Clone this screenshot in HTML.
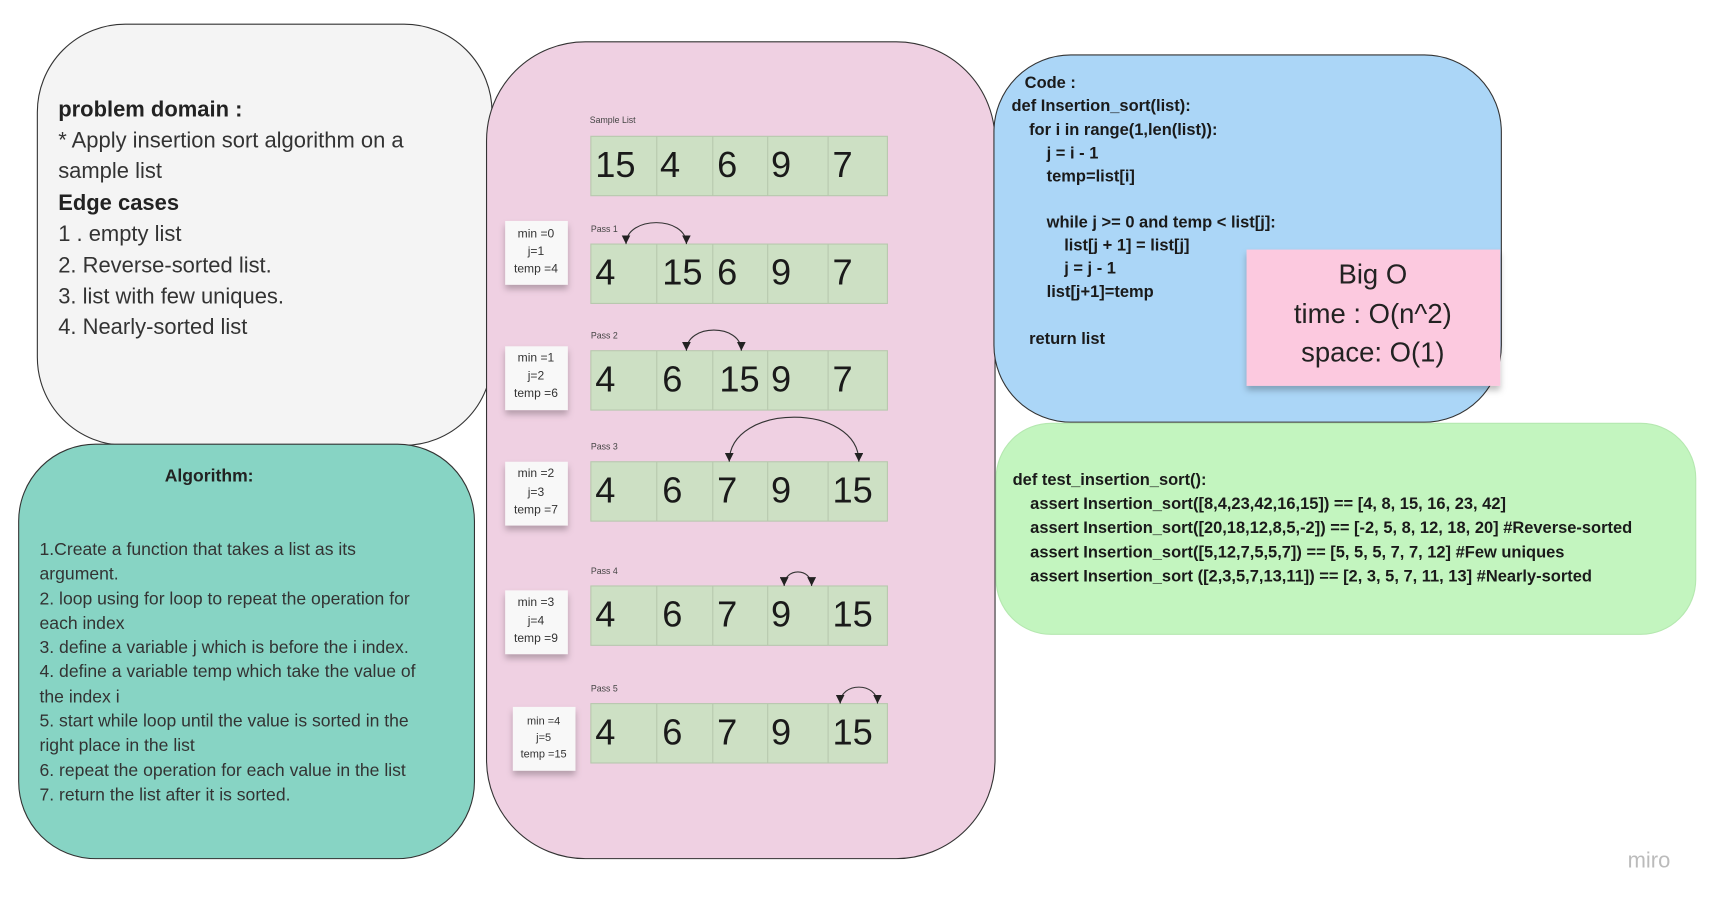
<!DOCTYPE html>
<html><head><meta charset="utf-8"><style>
html,body{margin:0;padding:0;background:#fff;width:1721px;height:907px;overflow:hidden}
svg{display:block}
text{font-family:"Liberation Sans",sans-serif;fill:#222}
.c{font-size:15px;font-weight:bold;fill:#1a1a1a}
.n{font-size:33px;fill:#1a1a1a}
.s{font-size:11px;text-anchor:middle;fill:#333}
.p{font-size:8px;fill:#444}
.a{font-size:16px;fill:#333}
.d{font-size:20px;fill:#333}
</style></head><body>
<svg width="1721" height="907" viewBox="0 0 1567 825" preserveAspectRatio="none">
<defs>
<marker id="ah" markerWidth="8" markerHeight="8" refX="8" refY="4" orient="auto-start-reverse" markerUnits="userSpaceOnUse"><path d="M0,0 L8,4 L0,8 z" fill="#222"/></marker>
<filter id="sh" x="-20%" y="-20%" width="140%" height="150%"><feDropShadow dx="0" dy="4" stdDeviation="3" flood-color="#000" flood-opacity="0.25"/></filter>
</defs>
<rect x="34" y="22" width="414" height="383" rx="80" fill="#f4f4f4" stroke="#333" stroke-width="1"/>
<rect x="17" y="404" width="415" height="377" rx="70" fill="#87d4c4" stroke="#333" stroke-width="1"/>
<rect x="443" y="38" width="463" height="743" rx="90" fill="#efd0e2" stroke="#333" stroke-width="1"/>
<rect x="905" y="50" width="462" height="334" rx="70" fill="#abd6f7" stroke="#333" stroke-width="1"/>
<rect x="907" y="385" width="637" height="192" rx="50" fill="#c3f5bf" stroke="#b5e8b0" stroke-width="1"/>

<text x="53" y="106" style="font-size:20px;font-weight:bold;fill:#222">problem domain :</text>
<text x="53" y="134" class="d">* Apply insertion sort algorithm on a</text>
<text x="53" y="162" class="d">sample list</text>
<text x="53" y="191" style="font-size:20px;font-weight:bold;fill:#222">Edge cases</text>
<text x="53" y="219" class="d">1 . empty list</text>
<text x="53" y="248" class="d">2. Reverse-sorted list.</text>
<text x="53" y="276" class="d">3. list with few uniques.</text>
<text x="53" y="304" class="d">4. Nearly-sorted list</text>

<text x="150" y="438" style="font-size:16px;font-weight:bold;fill:#222">Algorithm:</text>
<text x="36" y="505" class="a">1.Create a function that takes a list as its</text>
<text x="36" y="527" class="a">argument.</text>
<text x="36" y="550" class="a">2. loop using for loop to repeat the operation for</text>
<text x="36" y="572" class="a">each index</text>
<text x="36" y="594" class="a">3. define a variable j which is before the i index.</text>
<text x="36" y="616" class="a">4. define a variable temp which take the value of</text>
<text x="36" y="639" class="a">the index i</text>
<text x="36" y="661" class="a">5. start while loop until the value is sorted in the</text>
<text x="36" y="683" class="a">right place in the list</text>
<text x="36" y="706" class="a">6. repeat the operation for each value in the list</text>
<text x="36" y="728" class="a">7. return the list after it is sorted.</text>

<text x="537" y="112" class="p">Sample List</text>
<rect x="538" y="124" width="270" height="54" fill="#cde0c4" stroke="#b7c8ae"/>
<path d="M598,124v54M649,124v54M699,124v54M754,124v54" stroke="#b7c8ae"/>
<text x="542" y="161" class="n">15</text><text x="601" y="161" class="n">4</text><text x="653" y="161" class="n">6</text><text x="702" y="161" class="n">9</text><text x="758" y="161" class="n">7</text>

<text x="538" y="211" class="p">Pass 1</text>
<rect x="538" y="222" width="270" height="54" fill="#cde0c4" stroke="#b7c8ae"/>
<path d="M598,222v54M649,222v54M699,222v54M754,222v54" stroke="#b7c8ae"/>
<text x="542" y="259" class="n">4</text><text x="603" y="259" class="n">15</text><text x="653" y="259" class="n">6</text><text x="702" y="259" class="n">9</text><text x="758" y="259" class="n">7</text>
<path d="M570,222 C570,196 625,196 625,222" fill="none" stroke="#333" marker-start="url(#ah)" marker-end="url(#ah)"/>

<text x="538" y="308" class="p">Pass 2</text>
<rect x="538" y="319" width="270" height="54" fill="#cde0c4" stroke="#b7c8ae"/>
<path d="M598,319v54M649,319v54M699,319v54M754,319v54" stroke="#b7c8ae"/>
<text x="542" y="356" class="n">4</text><text x="603" y="356" class="n">6</text><text x="655" y="356" class="n">15</text><text x="702" y="356" class="n">9</text><text x="758" y="356" class="n">7</text>
<path d="M625,319 C625,294 675,294 675,319" fill="none" stroke="#333" marker-start="url(#ah)" marker-end="url(#ah)"/>

<text x="538" y="409" class="p">Pass 3</text>
<rect x="538" y="420" width="270" height="54" fill="#cde0c4" stroke="#b7c8ae"/>
<path d="M598,420v54M649,420v54M699,420v54M754,420v54" stroke="#b7c8ae"/>
<text x="542" y="457" class="n">4</text><text x="603" y="457" class="n">6</text><text x="653" y="457" class="n">7</text><text x="702" y="457" class="n">9</text><text x="758" y="457" class="n">15</text>
<path d="M664,420 C664,366 782,366 782,420" fill="none" stroke="#333" marker-start="url(#ah)" marker-end="url(#ah)"/>

<text x="538" y="522" class="p">Pass 4</text>
<rect x="538" y="533" width="270" height="54" fill="#cde0c4" stroke="#b7c8ae"/>
<path d="M598,533v54M649,533v54M699,533v54M754,533v54" stroke="#b7c8ae"/>
<text x="542" y="570" class="n">4</text><text x="603" y="570" class="n">6</text><text x="653" y="570" class="n">7</text><text x="702" y="570" class="n">9</text><text x="758" y="570" class="n">15</text>
<path d="M714,533 C714,516 739,516 739,533" fill="none" stroke="#333" marker-start="url(#ah)" marker-end="url(#ah)"/>

<text x="538" y="629" class="p">Pass 5</text>
<rect x="538" y="640" width="270" height="54" fill="#cde0c4" stroke="#b7c8ae"/>
<path d="M598,640v54M649,640v54M699,640v54M754,640v54" stroke="#b7c8ae"/>
<text x="542" y="677" class="n">4</text><text x="603" y="677" class="n">6</text><text x="653" y="677" class="n">7</text><text x="702" y="677" class="n">9</text><text x="758" y="677" class="n">15</text>
<path d="M765,640 C765,620 799,620 799,640" fill="none" stroke="#333" marker-start="url(#ah)" marker-end="url(#ah)"/>

<g filter="url(#sh)">
<rect x="460" y="201" width="57" height="58" fill="#f8f8f8"/>
<rect x="460" y="315" width="57" height="58" fill="#f8f8f8"/>
<rect x="460" y="420" width="57" height="58" fill="#f8f8f8"/>
<rect x="460" y="537" width="57" height="58" fill="#f8f8f8"/>
<rect x="467" y="643" width="57" height="58" fill="#f8f8f8"/>
</g>
<text x="488" y="216" class="s">min =0</text><text x="488" y="232" class="s">j=1</text><text x="488" y="248" class="s">temp =4</text>
<text x="488" y="329" class="s">min =1</text><text x="488" y="345" class="s">j=2</text><text x="488" y="361" class="s">temp =6</text>
<text x="488" y="434" class="s">min =2</text><text x="488" y="451" class="s">j=3</text><text x="488" y="467" class="s">temp =7</text>
<text x="488" y="551" class="s">min =3</text><text x="488" y="568" class="s">j=4</text><text x="488" y="584" class="s">temp =9</text>
<text x="495" y="659" class="s" style="font-size:10px">min =4</text><text x="495" y="674" class="s" style="font-size:10px">j=5</text><text x="495" y="689" class="s" style="font-size:10px">temp =15</text>

<text x="933" y="80" class="c">Code :</text>
<text x="921" y="101" class="c">def Insertion_sort(list):</text>
<text x="937" y="123" class="c">for i in range(1,len(list)):</text>
<text x="953" y="144" class="c">j = i - 1</text>
<text x="953" y="165" class="c">temp=list[i]</text>
<text x="953" y="207" class="c">while j &gt;= 0 and temp &lt; list[j]:</text>
<text x="969" y="228" class="c">list[j + 1] = list[j]</text>
<text x="969" y="249" class="c">j = j - 1</text>
<text x="953" y="270" class="c">list[j+1]=temp</text>
<text x="937" y="313" class="c">return list</text>

<rect x="1135" y="227" width="231" height="124" fill="#fcc9df" filter="url(#sh)"/>
<text x="1250" y="258" style="font-size:25px;text-anchor:middle;fill:#222">Big O</text>
<text x="1250" y="294" style="font-size:25px;text-anchor:middle;fill:#222">time :  O(n^2)</text>
<text x="1250" y="329" style="font-size:25px;text-anchor:middle;fill:#222">space: O(1)</text>

<text x="922" y="441" class="c">def test_insertion_sort():</text>
<text x="938" y="463" class="c">assert Insertion_sort([8,4,23,42,16,15]) == [4, 8, 15, 16, 23, 42]</text>
<text x="938" y="485" class="c">assert Insertion_sort([20,18,12,8,5,-2]) == [-2, 5, 8, 12, 18, 20]  #Reverse-sorted</text>
<text x="938" y="507" class="c">assert Insertion_sort([5,12,7,5,5,7]) == [5, 5, 5, 7, 7, 12] #Few uniques</text>
<text x="938" y="529" class="c">assert Insertion_sort ([2,3,5,7,13,11]) == [2, 3, 5, 7, 11, 13]  #Nearly-sorted</text>

<text x="1482" y="789" style="font-size:20px;fill:#bbb">miro</text>
</svg>
</body></html>
